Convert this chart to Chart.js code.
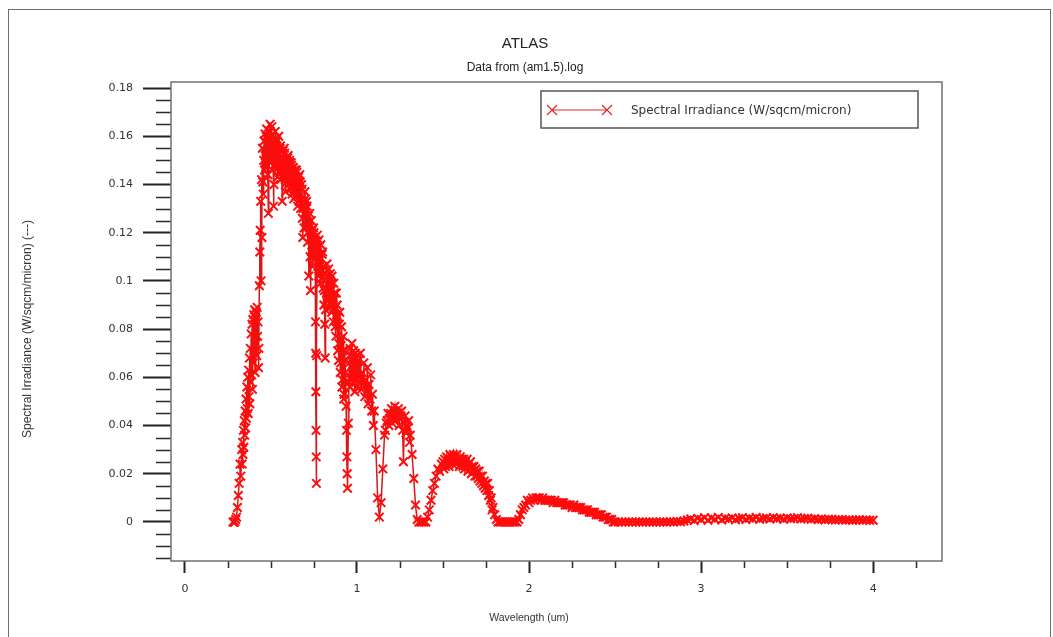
<!DOCTYPE html>
<html>
<head>
<meta charset="utf-8">
<script src="https://cdn.jsdelivr.net/npm/chart.js@4/dist/chart.umd.min.js"></script>
<style>
  html, body { margin: 0; padding: 0; background: #fff; overflow: hidden; }
  #frame { position: absolute; left: 8px; top: 9px; width: 1043px; height: 640px; border: 1.5px solid #6e6e6e; box-sizing: border-box; pointer-events: none; }
  #chart { position: absolute; left: 0; top: 0; }
</style>
</head>
<body>
<canvas id="chart" width="1053" height="637"></canvas>
<div id="frame"></div>
<script>
// spectrum, split by band (wavelength um / irradiance W/sqcm/micron)
const uvX = [0.280,0.285,0.290,0.295,0.300,0.305,0.310,0.315,0.320,0.325,0.330,0.3325,0.335,0.3375,0.340,0.3425,0.345,0.3475,0.350,0.3525,0.355,0.3575,0.360,0.3625,0.365,0.3675,0.370,0.3725,0.375,0.3775,0.380,0.3825,0.385,0.3875,0.390,0.3925,0.395,0.3975,0.400,0.4025,0.405,0.4075,0.410,0.4125,0.415,0.4175,0.420,0.4225,0.425,0.4275,0.430,0.4325,0.435,0.4375,0.440];
const uvY = [0.000,0.000,0.000,0.001,0.002,0.006,0.011,0.016,0.024,0.019,0.030,0.024,0.033,0.028,0.038,0.031,0.042,0.036,0.046,0.039,0.051,0.043,0.056,0.047,0.060,0.045,0.063,0.052,0.068,0.049,0.072,0.058,0.078,0.061,0.082,0.055,0.084,0.066,0.086,0.071,0.088,0.062,0.085,0.074,0.087,0.069,0.089,0.077,0.083,0.064,0.072,0.098,0.112,0.121,0.133];

const visX = [0.4425,0.445,0.4475,0.450,0.4525,0.455,0.4575,0.460,0.4625,0.465,0.4675,0.470,0.4725,0.475,0.4775,0.480,0.4825,0.485,0.4875,0.490,0.4925,0.495,0.4975,0.500,0.5025,0.505,0.5075,0.510,0.5125,0.515,0.5175,0.520,0.5225,0.525,0.5275,0.530,0.5325,0.535,0.5375,0.540,0.5425,0.545,0.5475,0.550,0.5525,0.555,0.5575,0.560,0.5625,0.565,0.5675,0.570,0.5725,0.575,0.5775,0.580,0.5825,0.585,0.5875,0.590,0.5925,0.595,0.5975,0.600,0.6025,0.605,0.6075,0.610,0.6125,0.615,0.6175,0.620,0.6225,0.625,0.6275,0.630,0.6325,0.635,0.6375,0.640,0.6425,0.645,0.6475,0.650,0.6525,0.655,0.6575,0.660,0.6625,0.665,0.6675,0.670,0.6725,0.675,0.6775,0.680,0.6825,0.685,0.6875,0.690,0.6925,0.695,0.6975,0.700,0.7025,0.705,0.7075,0.710,0.7125,0.715,0.7175,0.720,0.7225,0.725,0.7275,0.730,0.7325,0.735,0.7375,0.740,0.7425,0.745,0.7475,0.750,0.7525,0.755];
const visY = [0.100,0.142,0.118,0.155,0.141,0.136,0.150,0.158,0.146,0.161,0.152,0.147,0.160,0.163,0.151,0.159,0.144,0.128,0.150,0.162,0.155,0.165,0.149,0.152,0.160,0.164,0.146,0.158,0.150,0.131,0.140,0.157,0.148,0.162,0.155,0.149,0.159,0.158,0.143,0.153,0.147,0.160,0.150,0.145,0.155,0.156,0.142,0.151,0.146,0.133,0.148,0.154,0.144,0.149,0.155,0.153,0.142,0.137,0.147,0.150,0.141,0.146,0.151,0.152,0.140,0.144,0.150,0.149,0.138,0.141,0.149,0.148,0.136,0.143,0.147,0.147,0.134,0.138,0.145,0.146,0.135,0.140,0.146,0.145,0.136,0.131,0.141,0.143,0.133,0.139,0.144,0.141,0.130,0.134,0.140,0.138,0.126,0.118,0.130,0.133,0.122,0.128,0.137,0.134,0.122,0.130,0.133,0.131,0.116,0.120,0.127,0.102,0.122,0.128,0.110,0.096,0.117,0.125,0.112,0.121,0.106,0.115,0.122,0.120,0.109,0.118];

const o2X = [0.757,0.759,0.760,0.761,0.762,0.763,0.764,0.766,0.768];
const o2Y = [0.116,0.083,0.070,0.054,0.038,0.027,0.016,0.069,0.112];

const nirX = [0.770,0.7725,0.775,0.7775,0.780,0.7825,0.785,0.7875,0.790,0.7925,0.795,0.7975,0.800,0.8025,0.805,0.8075,0.810,0.8125,0.815,0.8175,0.820,0.8225,0.825,0.8275,0.830,0.8325,0.835,0.8375,0.840,0.8425,0.845,0.8475,0.850,0.8525,0.855,0.8575,0.860,0.8625,0.865,0.8675,0.870,0.8725,0.875,0.8775,0.880,0.8825,0.885,0.8875,0.890,0.8925,0.895,0.8975,0.900,0.9025,0.905,0.9075,0.910,0.9125,0.915,0.9175,0.920,0.9225,0.925,0.9275,0.930,0.9325,0.935,0.937,0.939,0.941,0.943,0.945,0.950,0.9525,0.955,0.9575,0.960,0.9625,0.965,0.9675,0.970,0.9725,0.975,0.9775,0.980,0.9825,0.985,0.9875,0.990,0.9925,0.995,0.9975,1.000];
const nirY = [0.119,0.106,0.114,0.102,0.117,0.104,0.109,0.099,0.115,0.101,0.104,0.111,0.112,0.097,0.106,0.090,0.096,0.082,0.068,0.088,0.101,0.092,0.107,0.095,0.102,0.093,0.105,0.096,0.097,0.089,0.103,0.091,0.099,0.087,0.102,0.092,0.093,0.083,0.099,0.088,0.095,0.081,0.089,0.077,0.095,0.083,0.090,0.071,0.085,0.067,0.074,0.082,0.087,0.062,0.066,0.076,0.081,0.056,0.059,0.071,0.077,0.051,0.053,0.067,0.071,0.062,0.058,0.048,0.038,0.027,0.020,0.014,0.041,0.058,0.066,0.056,0.072,0.060,0.059,0.069,0.074,0.062,0.068,0.058,0.071,0.060,0.063,0.054,0.070,0.059,0.066,0.056,0.069];

const swirX = [1.005,1.01,1.015,1.02,1.025,1.03,1.035,1.04,1.045,1.05,1.055,1.06,1.065,1.07,1.075,1.08,1.085,1.09,1.095,1.10,1.11,1.12,1.13,1.14,1.15,1.16,1.165,1.17,1.175,1.18,1.185,1.19,1.195,1.20,1.205,1.21,1.215,1.22,1.225,1.23,1.235,1.24,1.245,1.25,1.255,1.26,1.265,1.27,1.275,1.28,1.285,1.29,1.295,1.30,1.305,1.31,1.32,1.33,1.34,1.35,1.36,1.37,1.38,1.39,1.40,1.41,1.42,1.43,1.44,1.45,1.46,1.47,1.48,1.49,1.50];
const swirY = [0.058,0.067,0.060,0.070,0.055,0.062,0.057,0.066,0.052,0.059,0.054,0.064,0.049,0.057,0.051,0.061,0.046,0.053,0.040,0.046,0.030,0.010,0.002,0.008,0.022,0.036,0.038,0.041,0.042,0.045,0.040,0.043,0.045,0.047,0.041,0.044,0.046,0.048,0.042,0.045,0.044,0.047,0.040,0.043,0.044,0.046,0.038,0.025,0.041,0.044,0.037,0.040,0.039,0.042,0.033,0.036,0.028,0.018,0.007,0.001,0.000,0.000,0.000,0.000,0.000,0.002,0.005,0.009,0.013,0.016,0.019,0.022,0.021,0.024,0.025];

const ir1X = [1.505,1.51,1.515,1.52,1.525,1.53,1.535,1.54,1.545,1.55,1.555,1.56,1.565,1.57,1.575,1.58,1.585,1.59,1.595,1.60,1.605,1.61,1.615,1.62,1.625,1.63,1.635,1.64,1.645,1.65,1.655,1.66,1.665,1.67,1.675,1.68,1.685,1.69,1.695,1.70,1.705,1.71,1.715,1.72,1.725,1.73,1.735,1.74,1.745,1.75,1.755,1.76,1.765,1.77,1.775,1.78,1.785,1.79,1.80,1.81,1.82,1.83,1.84,1.85,1.86,1.87,1.88,1.89,1.90,1.91,1.92,1.93,1.94,1.95,1.96,1.97,1.98,1.99,2.00];
const ir1Y = [0.022,0.026,0.023,0.027,0.024,0.026,0.023,0.028,0.025,0.027,0.024,0.028,0.025,0.027,0.024,0.028,0.025,0.026,0.023,0.027,0.024,0.026,0.023,0.026,0.022,0.025,0.023,0.026,0.021,0.024,0.022,0.025,0.020,0.023,0.021,0.023,0.019,0.022,0.019,0.021,0.018,0.021,0.017,0.019,0.016,0.019,0.015,0.017,0.014,0.016,0.013,0.016,0.011,0.013,0.009,0.010,0.005,0.006,0.003,0.001,0.000,0.000,0.000,0.000,0.000,0.000,0.000,0.000,0.000,0.000,0.000,0.000,0.001,0.003,0.005,0.006,0.007,0.009,0.008];

const ir2X = [2.01,2.02,2.03,2.04,2.05,2.06,2.07,2.08,2.09,2.10,2.11,2.12,2.13,2.14,2.15,2.16,2.17,2.18,2.19,2.20,2.21,2.22,2.23,2.24,2.25,2.26,2.27,2.28,2.29,2.30,2.31,2.32,2.33,2.34,2.35,2.36,2.37,2.38,2.39,2.40,2.41,2.42,2.43,2.44,2.45,2.46,2.47,2.48,2.49,2.50];
const ir2Y = [0.009,0.010,0.009,0.010,0.010,0.010,0.009,0.010,0.009,0.009,0.009,0.009,0.009,0.008,0.009,0.008,0.008,0.008,0.008,0.008,0.007,0.007,0.007,0.007,0.006,0.007,0.006,0.006,0.006,0.006,0.005,0.005,0.005,0.005,0.004,0.004,0.004,0.004,0.003,0.003,0.003,0.003,0.002,0.002,0.002,0.001,0.001,0.001,0.000,0.000];

const tailX = [2.52,2.54,2.56,2.58,2.60,2.62,2.64,2.66,2.68,2.70,2.72,2.74,2.76,2.78,2.80,2.82,2.84,2.86,2.88,2.90,2.92,2.94,2.96,2.98,3.00,3.02,3.04,3.06,3.08,3.10,3.12,3.14,3.16,3.18,3.20,3.22,3.24,3.26,3.28,3.30,3.32,3.34,3.36,3.38,3.40,3.42,3.44,3.46,3.48,3.50,3.52,3.54,3.56,3.58,3.60,3.62,3.64,3.66,3.68,3.70,3.72,3.74,3.76,3.78,3.80,3.82,3.84,3.86,3.88,3.90,3.92,3.94,3.96,3.98,4.00];
const tailY = [0.000,0.000,0.000,0.000,0.000,0.000,0.000,0.000,0.000,0.000,0.000,0.000,0.000,0.000,0.000,0.0001,0.000,0.0002,0.0001,0.0004,0.0008,0.0012,0.0006,0.0015,0.0010,0.0018,0.0007,0.0016,0.0011,0.0019,0.0008,0.0015,0.0012,0.0017,0.0009,0.0014,0.0018,0.0010,0.0016,0.0013,0.0019,0.0011,0.0015,0.0017,0.0012,0.0018,0.0014,0.0016,0.0011,0.0017,0.0013,0.0015,0.0018,0.0012,0.0014,0.0016,0.0011,0.0013,0.0010,0.0012,0.0009,0.0011,0.0010,0.0008,0.0010,0.0009,0.0008,0.0009,0.0007,0.0008,0.0009,0.0007,0.0008,0.0007,0.0007];

const xTicks = ['0', '1', '2', '3', '4'];
const yTicks = ['0', '0.02', '0.04', '0.06', '0.08', '0.1', '0.12', '0.14', '0.16', '0.18'];

const bandsX = [uvX, visX, o2X, nirX, swirX, ir1X, ir2X, tailX];
const bandsY = [uvY, visY, o2Y, nirY, swirY, ir1Y, ir2Y, tailY];
const points = [];
bandsX.forEach((xs, b) => xs.forEach((x, i) => points.push({ x: x, y: bandsY[b][i] })));

const isMajorY = v => Math.abs(v / 0.02 - Math.round(v / 0.02)) < 1e-6 && v > -1e-9;
const isMajorX = v => Math.abs(v - Math.round(v)) < 1e-6;
const fmtY = v => { const s = String(Math.round(v * 100) / 100); return yTicks.includes(s) ? s : ''; };
const fmtX = v => { const s = String(Math.round(v)); return xTicks.includes(s) ? s : ''; };

const tickFont = { family: 'DejaVu Sans', size: 11 };

const decor = {
  id: 'decor',
  afterDraw(chart) {
    const { ctx, chartArea: a, scales: { x, y } } = chart;
    ctx.save();
    // minor ticks
    ctx.strokeStyle = '#2a2a2a';
    ctx.lineWidth = 1.5;
    ctx.beginPath();
    y.ticks.forEach(t => {
      if (isMajorY(t.value)) return;
      const py = Math.round(y.getPixelForValue(t.value)) + 0.5;
      ctx.moveTo(a.left - 15, py); ctx.lineTo(a.left, py);
    });
    x.ticks.forEach(t => {
      if (isMajorX(t.value)) return;
      const px = Math.round(x.getPixelForValue(t.value)) + 0.5;
      ctx.moveTo(px, a.bottom); ctx.lineTo(px, a.bottom + 7);
    });
    ctx.stroke();
    // plot box
    ctx.strokeStyle = '#707070';
    ctx.lineWidth = 1.5;
    ctx.strokeRect(a.left, a.top, a.right - a.left, a.bottom - a.top);

    // titles
    ctx.fillStyle = '#222';
    ctx.textAlign = 'center';
    ctx.textBaseline = 'middle';
    ctx.font = '15px "Liberation Sans", Arial, sans-serif';
    ctx.fillText('ATLAS', 525, 44);
    ctx.font = '12px "Liberation Sans", Arial, sans-serif';
    ctx.fillText('Data from (am1.5).log', 525, 68);
    ctx.font = '10.5px "Liberation Sans", Arial, sans-serif';
    ctx.fillStyle = '#333';
    ctx.fillText('Wavelength (um)', 529, 618);
    ctx.save();
    ctx.translate(28, 329);
    ctx.rotate(-Math.PI / 2);
    ctx.font = '12px "Liberation Sans", Arial, sans-serif';
    ctx.fillText('Spectral Irradiance (W/sqcm/micron) (---)', 0, 0);
    ctx.restore();

    // legend
    ctx.strokeStyle = '#555';
    ctx.lineWidth = 1.5;
    ctx.strokeRect(541, 91, 377, 37);
    ctx.strokeStyle = '#e02828';
    ctx.lineWidth = 1.2;
    ctx.beginPath();
    ctx.moveTo(552, 110); ctx.lineTo(607, 110);
    [552, 607].forEach(cx => {
      ctx.moveTo(cx - 5, 105); ctx.lineTo(cx + 5, 115);
      ctx.moveTo(cx - 5, 115); ctx.lineTo(cx + 5, 105);
    });
    ctx.stroke();
    ctx.fillStyle = '#333';
    ctx.textAlign = 'left';
    ctx.font = '12px "DejaVu Sans", sans-serif';
    ctx.fillText('Spectral Irradiance (W/sqcm/micron)', 631, 111);
    ctx.restore();
  }
};

new Chart(document.getElementById('chart').getContext('2d'), {
  type: 'scatter',
  data: {
    datasets: [{
      label: 'Spectral Irradiance (W/sqcm/micron)',
      data: points,
      showLine: true,
      borderColor: '#d81818',
      borderWidth: 1.5,
      pointStyle: 'crossRot',
      pointRadius: 6,
      pointBorderColor: '#ff0c0c',
      pointBorderWidth: 2,
      pointBackgroundColor: '#ff0c0c',
      tension: 0
    }]
  },
  options: {
    responsive: false,
    animation: false,
    layout: { padding: { left: 0, right: 111, top: 82, bottom: 0 } },
    plugins: {
      legend: { display: false },
      title: { display: false },
      tooltip: { enabled: false }
    },
    scales: {
      x: {
        type: 'linear',
        min: -0.081,
        max: 4.40,
        border: { display: false },
        grid: {
          drawOnChartArea: false,
          tickLength: 12,
          tickWidth: 2,
          tickColor: c => (c.tick && isMajorX(c.tick.value)) ? '#222' : 'rgba(0,0,0,0)'
        },
        ticks: {
          stepSize: 0.25,
          includeBounds: false,
          autoSkip: false,
          maxRotation: 0,
          padding: 10,
          color: '#333',
          font: tickFont,
          callback: v => isMajorX(v) ? fmtX(v) : ''
        },
        afterFit: s => { s.height = 76; }
      },
      y: {
        type: 'linear',
        min: -0.0162,
        max: 0.1825,
        border: { display: false },
        grid: {
          drawOnChartArea: false,
          tickLength: 28,
          tickWidth: 2,
          tickColor: c => (c.tick && isMajorY(c.tick.value)) ? '#222' : 'rgba(0,0,0,0)'
        },
        ticks: {
          stepSize: 0.005,
          includeBounds: false,
          autoSkip: false,
          padding: 10,
          color: '#333',
          font: tickFont,
          callback: v => isMajorY(v) ? fmtY(v) : ''
        },
        afterFit: s => { s.width = 171; }
      }
    }
  },
  plugins: [decor]
});
</script>
</body>
</html>
